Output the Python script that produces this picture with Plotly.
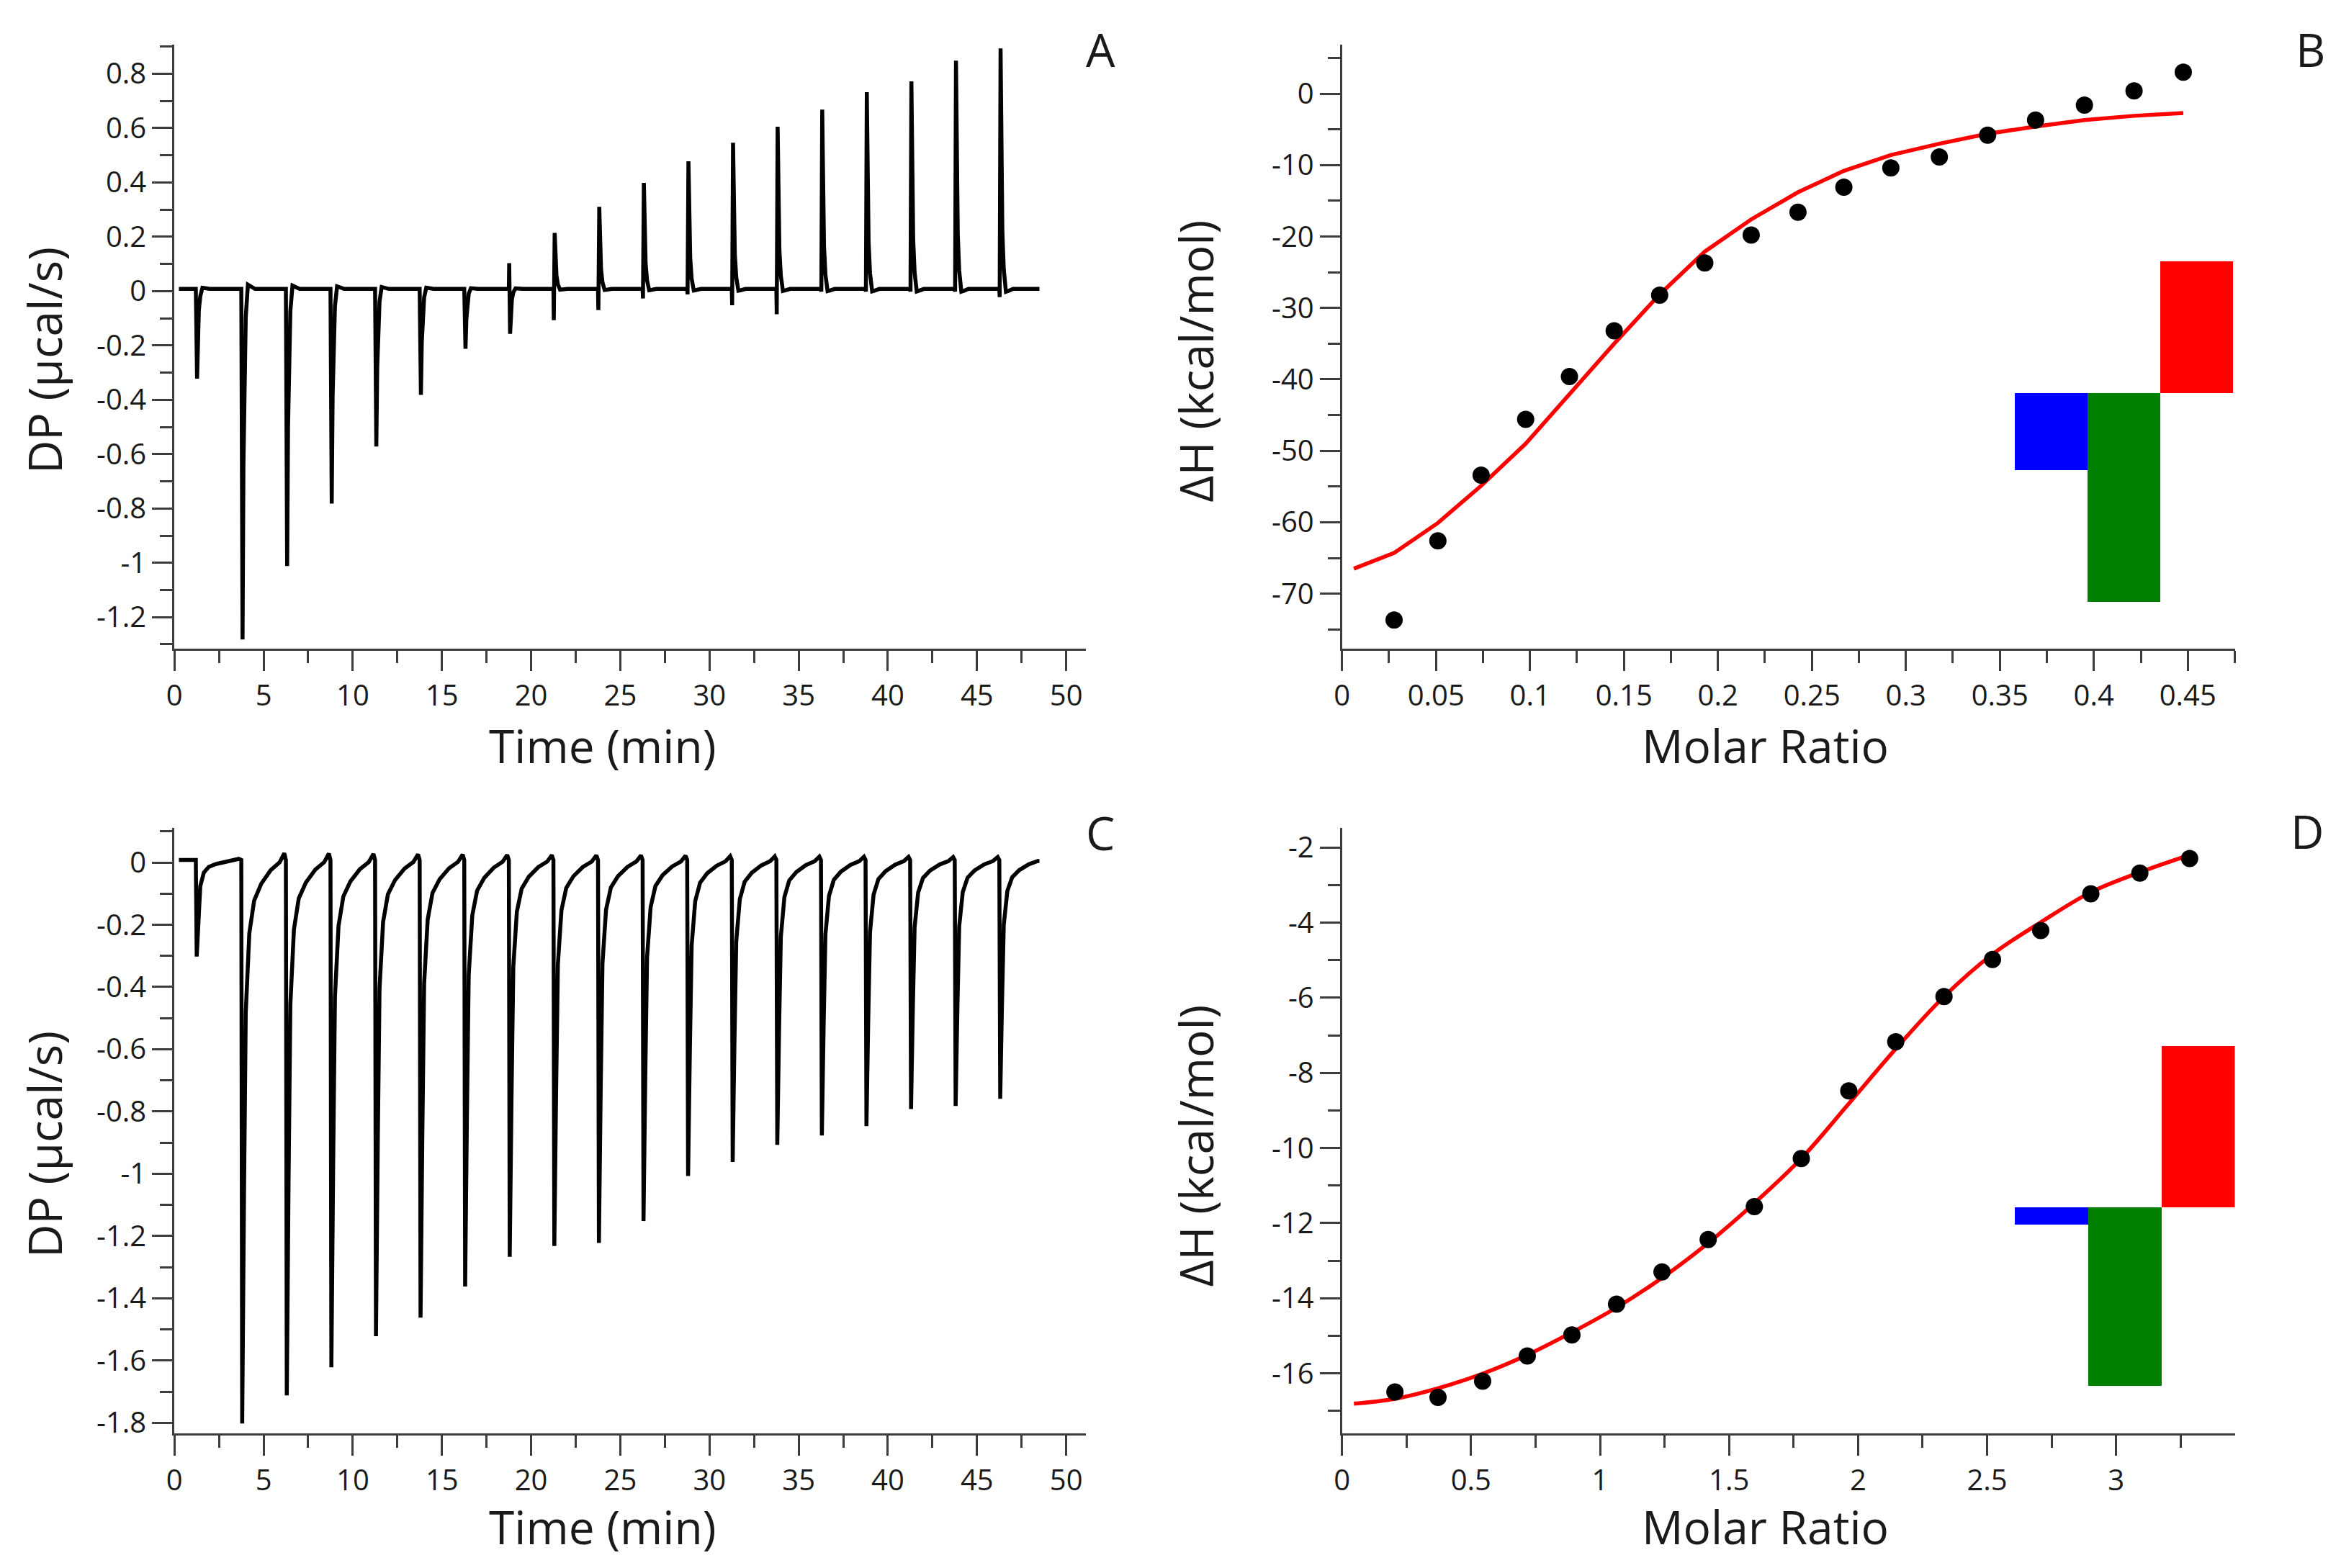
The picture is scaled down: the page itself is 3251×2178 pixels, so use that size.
import plotly.graph_objects as go

# injection times (min), shared by both thermograms
inj_time = [1.2, 3.75, 6.25, 8.75, 11.25, 13.75, 16.25, 18.75, 21.25, 23.75,
            26.25, 28.75, 31.25, 33.75, 36.25, 38.75, 41.25, 43.75, 46.25]

# panel A: upward and downward excursion of each injection (ucal/s)
a_up = [0, 0, 0, 0, 0, 0, 0, 0.095, 0.206, 0.302, 0.39, 0.47, 0.538, 0.597,
        0.66, 0.724, 0.764, 0.84, 0.885]
a_down = [-0.33, -1.29, -1.02, -0.79, -0.58, -0.39, -0.22, -0.165, -0.115,
          -0.078, -0.035, -0.02, -0.06, -0.093, -0.01, -0.01, -0.01, -0.01, -0.03]
# recovery after the main excursion: minutes after peak, fraction of peak left
a_rec_dt = [0.0, 0.05, 0.1, 0.18, 0.3, 0.45, 0.7]
a_rec_frac = [1.0, 0.5, 0.24, 0.08, -0.012, -0.008, 0.0]

# panel C: peak of each injection (ucal/s)
c_peak = [-0.31, -1.81, -1.72, -1.63, -1.53, -1.47, -1.37, -1.275, -1.24, -1.23,
          -1.16, -1.015, -0.97, -0.915, -0.885, -0.855, -0.80, -0.79, -0.767]
c_rec_dt = [0.0, 0.1, 0.2, 0.4, 0.67, 1.07, 1.6, 2.1, 2.36]
c_rec_frac = [1.0, 0.6, 0.27, 0.13, 0.072, 0.042, 0.018, 0.004, -0.012]

# panel B: integrated heats and fit
b_ratio = [0.0277, 0.051, 0.074, 0.0977, 0.121, 0.1448, 0.169, 0.193, 0.2177,
           0.2426, 0.267, 0.292, 0.3178, 0.3435, 0.369, 0.395, 0.4214, 0.4476]
b_dh = [-73.7, -62.6, -53.4, -45.6, -39.6, -33.2, -28.2, -23.7, -19.8, -16.6,
        -13.1, -10.4, -8.85, -5.8, -3.7, -1.6, 0.4, 3.0]
b_fit_x = [0.0063] + b_ratio
b_fit_y = [-66.5, -64.3, -60.1, -54.9, -49.0, -42.0, -35.0, -28.1, -22.1, -17.6,
           -13.8, -10.8, -8.6, -7.0, -5.6, -4.6, -3.7, -3.1, -2.7]

# panel D: integrated heats and fit
d_ratio = [0.205, 0.372, 0.545, 0.718, 0.891, 1.064, 1.240, 1.419, 1.598,
           1.780, 1.964, 2.146, 2.333, 2.521, 2.708, 2.902, 3.092, 3.285]
d_dh = [-16.5, -16.64, -16.21, -15.54, -14.98, -14.16, -13.3, -12.44, -11.56,
        -10.28, -8.48, -7.17, -5.97, -4.98, -4.21, -3.23, -2.68, -2.29]
d_fit_x = [0.046] + d_ratio
d_fit_y = [-16.81, -16.68, -16.40, -16.01, -15.51, -14.91, -14.25, -13.46, -12.53,
           -11.47, -10.28, -8.82, -7.36, -5.97, -4.84, -3.99, -3.19, -2.66, -2.2]

# thermodynamic signatures (kcal/mol): dG, dH, -TdS
sig_names = ["ΔG", "ΔH", "-TΔS"]
sig_colors = ["#0000FF", "#008000", "#FF0000"]
sig_b = [-10.8, -29.2, 18.5]
sig_d = [-0.46, -4.75, 4.31]
sig_base_b = -41.9
sig_base_d = -11.58

# tick labels
time_ticks = [0, 5, 10, 15, 20, 25, 30, 35, 40, 45, 50]
a_yticks = [0.8, 0.6, 0.4, 0.2, 0, -0.2, -0.4, -0.6, -0.8, -1, -1.2]
c_yticks = [0, -0.2, -0.4, -0.6, -0.8, -1, -1.2, -1.4, -1.6, -1.8]
b_xticks = [0, 0.05, 0.1, 0.15, 0.2, 0.25, 0.3, 0.35, 0.4, 0.45]
b_yticks = [0, -10, -20, -30, -40, -50, -60, -70]
d_xticks = [0, 0.5, 1, 1.5, 2, 2.5, 3]
d_yticks = [-2, -4, -6, -8, -10, -12, -14, -16]


def lab(v):
    return f"{v:g}"


def thermogram(mains, secs, rec_dt, rec_frac, drop, base=0.008, t0=0.25, t1=48.5):
    xs, ys = [t0], [base]
    for t, m, s in zip(inj_time, mains, secs):
        xs.append(t)
        ys.append(base)
        if s:
            xs.append(t + 0.02)
            ys.append(base + s)
        for dt, f in zip(rec_dt, rec_frac):
            xs.append(t + drop + dt)
            ys.append(base + m * f)
    pts = [(x, y) for x, y in zip(xs, ys) if x <= t1]
    pts.append((t1, pts[-1][1]))
    return [p[0] for p in pts], [p[1] for p in pts]


a_main, a_sec = [], []
for u, d in zip(a_up, a_down):
    if abs(u) > abs(d):
        a_main.append(u)
        a_sec.append(d)
    else:
        a_main.append(d)
        a_sec.append(u)

ax_t, ax_y = thermogram(a_main, a_sec, a_rec_dt, a_rec_frac, 0.07)
cx_t, cx_y = thermogram(c_peak, [0] * len(c_peak), c_rec_dt, c_rec_frac, 0.05)

W, H = 3251, 2178
FONT = "Open Sans"
AXC = "#3c3c3c"
TXT = "#1a1a1a"

fig = go.Figure()
line_kw = dict(color="black", width=5.5)
fig.add_trace(go.Scatter(x=ax_t, y=ax_y, mode="lines", line=line_kw, xaxis="x", yaxis="y"))
fig.add_trace(go.Scatter(x=cx_t, y=cx_y, mode="lines", line=line_kw, xaxis="x3", yaxis="y3"))

# signature bars (drawn under the data)
bw_b, left_b = 0.0388, 0.3577
bw_d, left_d = 0.285, 2.607
fig.add_trace(go.Bar(x=[left_b + bw_b * (i + 0.5) for i in range(3)], y=sig_b,
                     base=sig_base_b, width=bw_b, marker=dict(color=sig_colors, line_width=0),
                     hovertext=sig_names, xaxis="x2", yaxis="y2"))
fig.add_trace(go.Bar(x=[left_d + bw_d * (i + 0.5) for i in range(3)], y=sig_d,
                     base=sig_base_d, width=bw_d, marker=dict(color=sig_colors, line_width=0),
                     hovertext=sig_names, xaxis="x4", yaxis="y4"))

fig.add_trace(go.Scatter(x=b_fit_x, y=b_fit_y, mode="lines", line=dict(color="#FF0000", width=5.5),
                         xaxis="x2", yaxis="y2"))
fig.add_trace(go.Scatter(x=b_ratio, y=b_dh, mode="markers", marker=dict(color="black", size=24),
                         xaxis="x2", yaxis="y2"))
fig.add_trace(go.Scatter(x=d_fit_x, y=d_fit_y, mode="lines", line=dict(color="#FF0000", width=5.5, shape="spline"),
                         xaxis="x4", yaxis="y4"))
fig.add_trace(go.Scatter(x=d_ratio, y=d_dh, mode="markers", marker=dict(color="black", size=24),
                         xaxis="x4", yaxis="y4"))


def px_x(p):
    return p / W


def px_y(p):
    return 1 - p / H


def axis(domain, rng, ticks, minor, anchor):
    return dict(domain=domain, range=rng, anchor=anchor,
                tickmode="array", tickvals=ticks, ticktext=[lab(v) for v in ticks],
                ticks="outside", ticklen=28, tickwidth=3, tickcolor=AXC,
                minor=dict(tickmode="linear", tick0=0, dtick=minor, ticks="outside",
                           ticklen=17, tickwidth=3, tickcolor=AXC),
                showline=True, linewidth=3, linecolor=AXC, mirror=False,
                showgrid=False, zeroline=False,
                tickfont=dict(family=FONT, size=40, color=TXT))


left_dom = [px_x(232), px_x(1502)]
right_dom = [px_x(1859), px_x(3103)]
top_dom = [px_y(905), px_y(61)]
bot_dom = [px_y(2001), px_y(1155)]

fig.update_layout(
    width=W, height=H,
    margin=dict(l=0, r=0, t=0, b=0),
    paper_bgcolor="white", plot_bgcolor="white",
    showlegend=False, bargap=0,
    font=dict(family=FONT, color=TXT),
    xaxis=axis(left_dom, [0, 51.1], time_ticks, 2.5, "y"),
    yaxis=axis(top_dom, [-1.316, 0.908], a_yticks, 0.1, "x"),
    xaxis2=axis(right_dom, [0, 0.475], b_xticks, 0.025, "y2"),
    yaxis2=axis(top_dom, [-77.7, 6.9], b_yticks, 5, "x2"),
    xaxis3=axis(left_dom, [0, 51.1], time_ticks, 2.5, "y3"),
    yaxis3=axis(bot_dom, [-1.834, 0.112], c_yticks, 0.1, "x3"),
    xaxis4=axis(right_dom, [0, 3.46], d_xticks, 0.25, "y4"),
    yaxis4=axis(bot_dom, [-17.6, -1.47], d_yticks, 1, "x4"),
)

ann = []


def text(s, x, y, size=64, angle=0):
    ann.append(dict(text=s, x=px_x(x), y=px_y(y), xref="paper", yref="paper",
                    showarrow=False, textangle=angle, xanchor="center", yanchor="middle",
                    font=dict(family=FONT, size=size, color=TXT)))


text("Time (min)", 829, 1040)
text("Time (min)", 829, 2131)
text("Molar Ratio", 2449, 1040)
text("Molar Ratio", 2449, 2131)
text("DP (µcal/s)", 50, 502, angle=-90)
text("DP (µcal/s)", 50, 1597, angle=-90)
text("ΔH (kcal/mol)", 1655, 503, angle=-90)
text("ΔH (kcal/mol)", 1655, 1599, angle=-90)
text("A", 1523, 68)
text("B", 3208, 68)
text("C", 1522, 1162)
text("D", 3204, 1160)
fig.update_layout(annotations=ann)

fig.write_html("out.html", config={"displayModeBar": False},
               post_script="document.body.style.margin='0';")
